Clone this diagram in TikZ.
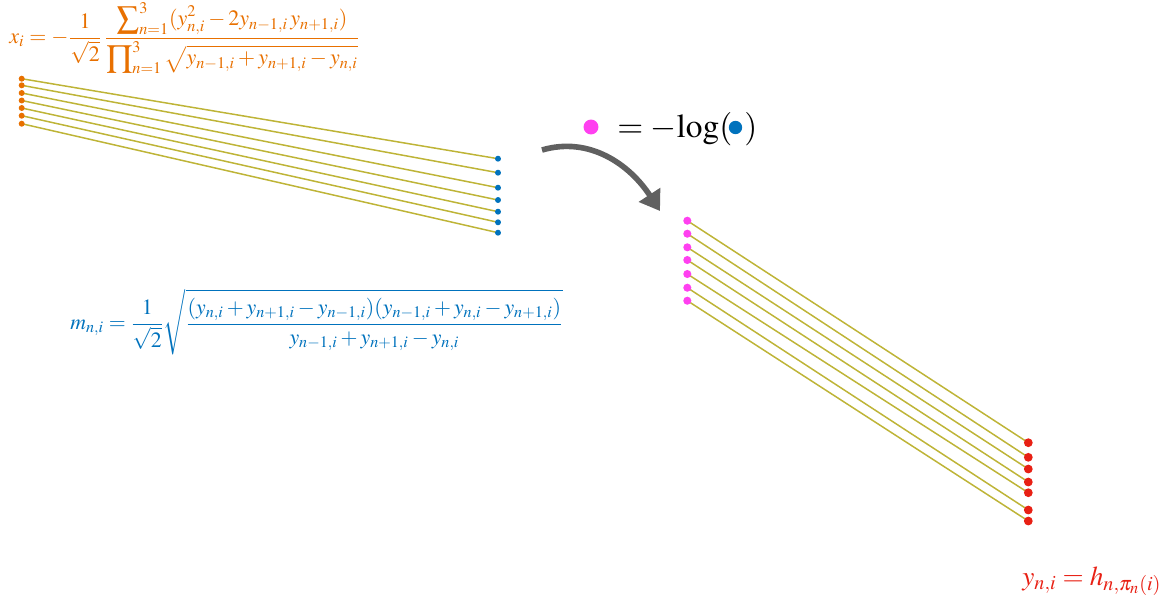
\documentclass[tikz,border=0pt]{standalone}
\usepackage{mathptmx}
\usetikzlibrary{arrows.meta}
\definecolor{cOrange}{RGB}{232,112,0}
\definecolor{cBlue}{RGB}{0,114,189}
\definecolor{cPink}{RGB}{255,64,240}
\definecolor{cRed}{RGB}{232,32,20}
\definecolor{cOlive}{RGB}{190,180,55}
\definecolor{cGray}{RGB}{96,96,96}
\tikzset{
  wire/.style={draw=cOlive, line width=0.85pt},
  dot/.style={circle, inner sep=0pt, minimum size=#1},
  odot/.style={dot=3.4pt, fill=cOrange},
  bdot/.style={dot=3.4pt, fill=cBlue},
  pdot/.style={dot=4.6pt, fill=cPink},
  rdot/.style={dot=5pt, fill=cRed},
}
\begin{document}
\begin{tikzpicture}[x=0.02cm, y=-0.02cm]
\useasboundingbox (0,0) rectangle (1175,596);
% coordinates
\foreach \i/\ya/\yb in {1/78.7/158.7, 2/85.3/172.7, 3/93/187.7, 4/100.5/200, 5/108/211.7, 6/115.7/222.3, 7/123.7/232.7}{
  \coordinate (L\i) at (21.7,\ya);
  \coordinate (B\i) at (498,\yb);
}
\foreach \i/\ya/\yb in {1/220.7/442.7, 2/233.7/457.3, 3/247.3/469, 4/260/482, 5/274/492.7, 6/287.7/510, 7/300.7/521}{
  \coordinate (P\i) at (687.3,\ya);
  \coordinate (Q\i) at (1028.3,\yb);
}
\foreach \i in {1,...,7}{
  \draw[wire] (L\i) -- (B\i);
  \draw[wire] (P\i) -- (Q\i);
}
\foreach \i in {1,...,7}{
  \node[odot] (lo\i) at (L\i) {};
  \node[bdot] (bo\i) at (B\i) {};
  \node[pdot] (po\i) at (P\i) {};
  \node[rdot] (qo\i) at (Q\i) {};
}
% formulas
\node[text=cOrange, anchor=west, inner sep=0pt, font=\fontsize{12.5}{15}\selectfont] (fx) at (9,38)
  {$\displaystyle x_i=-\frac{1}{\sqrt{2}}\,\frac{\displaystyle\sum\nolimits_{n=1}^{3}(y_{n,i}^2-2y_{n-1,i}\,y_{n+1,i})}{\displaystyle\prod\nolimits_{n=1}^{3}\sqrt{y_{n-1,i}+y_{n+1,i}-y_{n,i}}}$};
\node[text=cBlue, anchor=west, inner sep=0pt, font=\fontsize{12.4}{14}\selectfont] (fm) at (70,322)
  {$\displaystyle m_{n,i}=\frac{1}{\sqrt{2}}\sqrt{\frac{(y_{n,i}+y_{n+1,i}-y_{n-1,i})(y_{n-1,i}+y_{n,i}-y_{n+1,i})}{y_{n-1,i}+y_{n+1,i}-y_{n,i}}}$};
\node[text=cRed, anchor=base west, inner sep=0pt, font=\fontsize{15.5}{18}\selectfont] (fy) at (1022,585)
  {$y_{n,i}=h_{n,\pi_n(i)}$};
% legend
\node[dot=8.5pt, fill=cPink] (lp) at (591,127) {};
\node[anchor=base west, inner sep=0pt, font=\fontsize{19}{22}\selectfont] (leq) at (617,137) {$=-\!\log($};
\node[dot=7.6pt, fill=cBlue] (lb) at (735.5,127.5) {};
\node[anchor=base west, inner sep=0pt, font=\fontsize{19}{22}\selectfont] (lpar) at (744,137) {$)$};
% arrow
\coordinate (as) at (542,150);
\coordinate (ae) at (660,211);
\draw[cGray, line width=3.2pt, -{Triangle[length=11pt, width=14pt]}] (as) .. controls (590,136) and (630,165) .. (ae);
\end{tikzpicture}
\end{document}
